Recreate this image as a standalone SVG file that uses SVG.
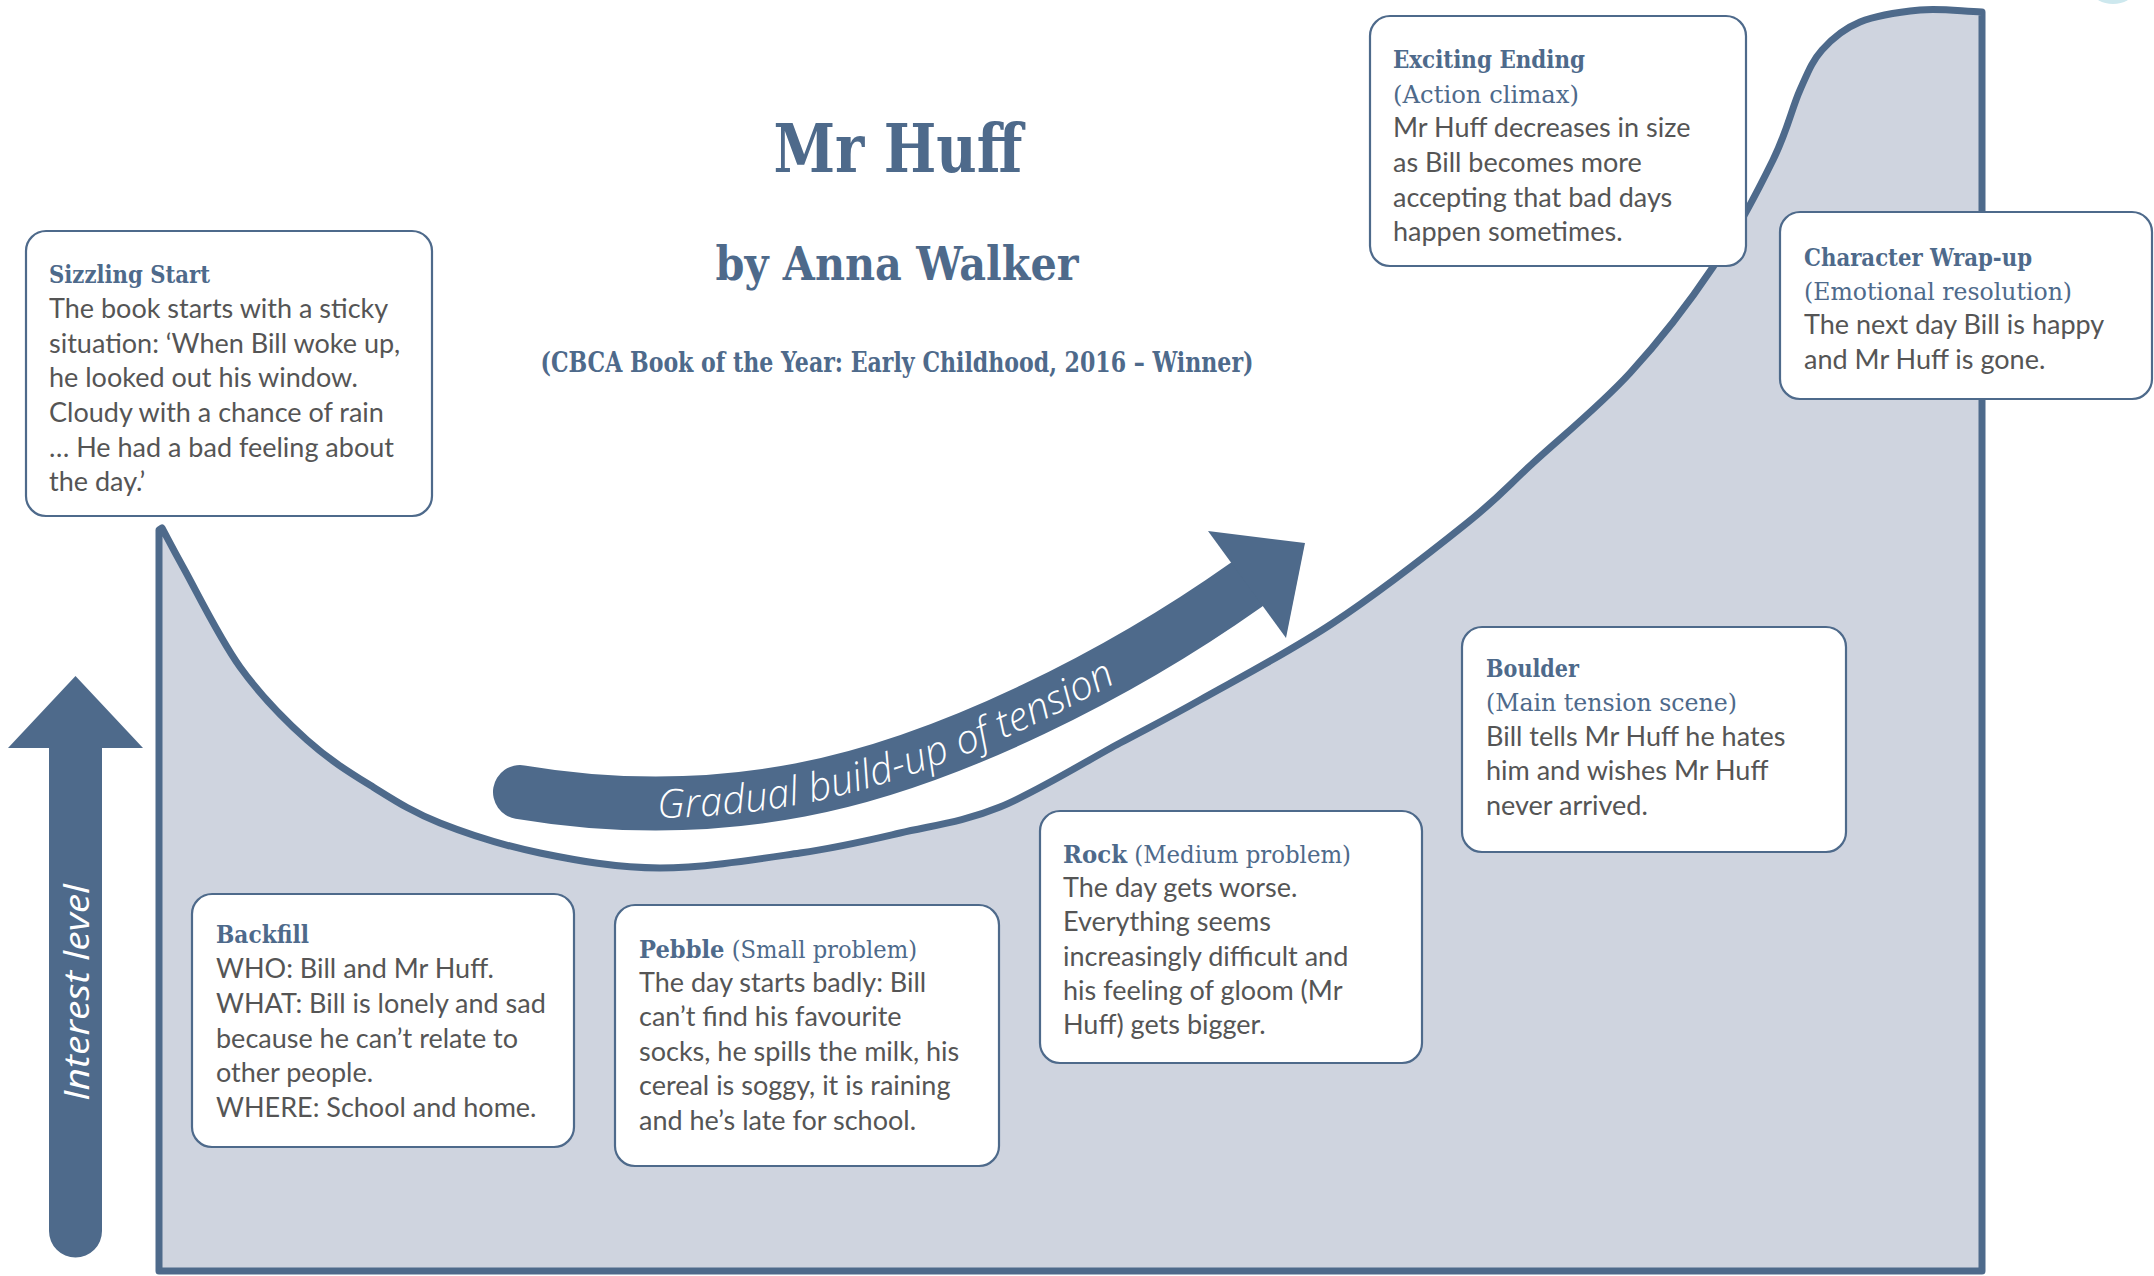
<svg xmlns="http://www.w3.org/2000/svg" width="2154" height="1276" viewBox="0 0 2154 1276">
<defs>
<style>
.box{fill:#fff;stroke:#4e6a8b;stroke-width:2.2}
.h{font-family:"DejaVu Serif","Liberation Serif",serif;font-weight:bold;font-size:25px;fill:#4e6a8b}
.r{font-weight:normal}
.b{font-family:Lato,"Open Sans",sans-serif;font-size:27px;fill:#555}
.t{font-family:"DejaVu Serif","Liberation Serif",serif;font-weight:bold;fill:#4e6a8b;text-anchor:middle}
.ink{fill:#4e6a8b}
</style>
<path id="bandPath" d="M520 792 C615 808 705 808 800 790 C950 761.5 1123 672 1246 585"/>
</defs>
<rect x="0" y="0" width="2154" height="1276" fill="#fff"/>
<ellipse cx="2113" cy="-8" rx="20" ry="12" fill="#cde8ee"/>

<g id="plot">
<path d="M159 1271 L159 530 L162 528 C169 541 170 543.8 183 567 S219.3 638.2 240 667 S284.8 720 307 740 S350.8 773.2 373 787 S412.2 812 440 823 S503.3 845.5 540 853 S616.7 868 660 868 S760 858.8 800 853 S866.7 840.7 900 833 S963.3 822 1000 807 S1086.7 760.8 1120 743 S1164.5 720 1200 700 S1288.5 652.5 1333 623 S1433.7 549.7 1467 523 S1505.8 488 1533 463 S1600 405.7 1630 373 S1689.2 302.5 1713 267 S1758.5 189.5 1773 160 S1791.8 108.3 1800 90 S1812 61.3 1822 50 S1843.7 28.7 1860 22 S1899.7 12 1920 10 S1961.3 11.3 1982 12 L1982 1271 Z" fill="#cfd4df" stroke="#4e6a8b" stroke-width="7" stroke-linejoin="round"/>
</g>

<g id="connectors">
<g id="interest-arrow">
<path class="ink" d="M8 748 L75.5 676 L143 748 L102 748 L102 1231 A26.5 26.5 0 0 1 49 1231 L49 748 Z"/>
<text transform="translate(89 1101) rotate(-90)" font-family="'Open Sans',sans-serif" font-style="italic" font-size="35" fill="#fff" textLength="217" lengthAdjust="spacingAndGlyphs">Interest level</text>
</g>
<g id="tension-arrow">
<path d="M520 792 C615 808 705 808 800 790 C950 761.5 1123 672 1246 585" fill="none" stroke="#4e6a8b" stroke-width="54" stroke-linecap="round"/>
<polygon class="ink" points="1208,531 1305,543 1286,638"/>
<text font-family="'Open Sans',sans-serif" font-style="italic" font-weight="300" font-size="40" fill="#fff"><textPath href="#bandPath" startOffset="138"><tspan dy="14">Gradual build-up of tension</tspan></textPath></text>
</g>
</g>

<g id="title">
<text class="t" x="898" y="172" font-size="67" textLength="249" lengthAdjust="spacingAndGlyphs">Mr Huff</text>
<text class="t" x="897" y="280" font-size="46" textLength="363" lengthAdjust="spacingAndGlyphs">by Anna Walker</text>
<text class="t" x="897" y="372" font-size="27" textLength="713" lengthAdjust="spacingAndGlyphs">(CBCA Book of the Year: Early Childhood, 2016 – Winner)</text>
</g>

<g id="sizzling-start">
<rect class="box" x="26" y="231" width="406" height="285" rx="20"/>
<text class="h" x="49" y="283" textLength="161" lengthAdjust="spacingAndGlyphs">Sizzling Start</text>
<text class="b"><tspan x="49" y="318">The book starts with a sticky</tspan><tspan x="49" y="353">situation: ‘When Bill woke up,</tspan><tspan x="49" y="387">he looked out his window.</tspan><tspan x="49" y="422">Cloudy with a chance of rain</tspan><tspan x="49" y="457">… He had a bad feeling about</tspan><tspan x="49" y="491">the day.’</tspan></text>
</g>

<g id="backfill">
<rect class="box" x="192" y="894" width="382" height="253" rx="20"/>
<text class="h" x="216" y="943" textLength="93" lengthAdjust="spacingAndGlyphs">Backfill</text>
<text class="b"><tspan x="216" y="978">WHO: Bill and Mr Huff.</tspan><tspan x="216" y="1013">WHAT: Bill is lonely and sad</tspan><tspan x="216" y="1048">because he can’t relate to</tspan><tspan x="216" y="1082">other people.</tspan><tspan x="216" y="1117">WHERE: School and home.</tspan></text>
</g>

<g id="pebble">
<rect class="box" x="615" y="905" width="384" height="261" rx="20"/>
<text class="h" x="639" y="958" textLength="278" lengthAdjust="spacingAndGlyphs">Pebble<tspan class="r"> (Small problem)</tspan></text>
<text class="b"><tspan x="639" y="992">The day starts badly: Bill</tspan><tspan x="639" y="1026">can’t find his favourite</tspan><tspan x="639" y="1061">socks, he spills the milk, his</tspan><tspan x="639" y="1095">cereal is soggy, it is raining</tspan><tspan x="639" y="1130">and he’s late for school.</tspan></text>
</g>

<g id="rock">
<rect class="box" x="1040" y="811" width="382" height="252" rx="20"/>
<text class="h" x="1063" y="863" textLength="288" lengthAdjust="spacingAndGlyphs">Rock<tspan class="r"> (Medium problem)</tspan></text>
<text class="b"><tspan x="1063" y="897">The day gets worse.</tspan><tspan x="1063" y="931">Everything seems</tspan><tspan x="1063" y="966">increasingly difficult and</tspan><tspan x="1063" y="1000">his feeling of gloom (Mr</tspan><tspan x="1063" y="1034">Huff) gets bigger.</tspan></text>
</g>

<g id="boulder">
<rect class="box" x="1462" y="627" width="384" height="225" rx="20"/>
<text class="h" x="1486" y="677" textLength="93" lengthAdjust="spacingAndGlyphs">Boulder</text>
<text class="h r" x="1486" y="711" textLength="251" lengthAdjust="spacingAndGlyphs">(Main tension scene)</text>
<text class="b"><tspan x="1486" y="746">Bill tells Mr Huff he hates</tspan><tspan x="1486" y="780">him and wishes Mr Huff</tspan><tspan x="1486" y="815">never arrived.</tspan></text>
</g>

<g id="exciting-ending">
<rect class="box" x="1370" y="16" width="376" height="250" rx="20"/>
<text class="h" x="1393" y="68" textLength="192" lengthAdjust="spacingAndGlyphs">Exciting Ending</text>
<text class="h r" x="1393" y="103" textLength="186" lengthAdjust="spacingAndGlyphs">(Action climax)</text>
<text class="b"><tspan x="1393" y="137">Mr Huff decreases in size</tspan><tspan x="1393" y="172">as Bill becomes more</tspan><tspan x="1393" y="207">accepting that bad days</tspan><tspan x="1393" y="241">happen sometimes.</tspan></text>
</g>

<g id="character-wrap-up">
<rect class="box" x="1780" y="212" width="372" height="187" rx="20"/>
<text class="h" x="1804" y="266" textLength="228" lengthAdjust="spacingAndGlyphs">Character Wrap-up</text>
<text class="h r" x="1804" y="300" textLength="268" lengthAdjust="spacingAndGlyphs">(Emotional resolution)</text>
<text class="b"><tspan x="1804" y="334">The next day Bill is happy</tspan><tspan x="1804" y="369">and Mr Huff is gone.</tspan></text>
</g>
</svg>
